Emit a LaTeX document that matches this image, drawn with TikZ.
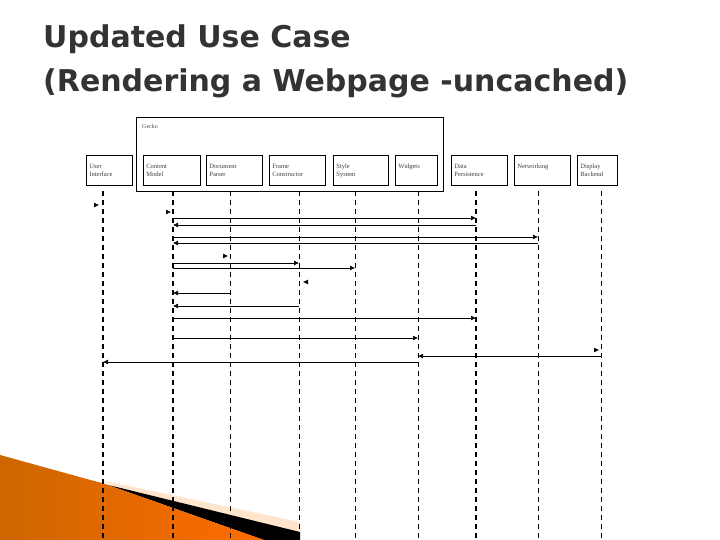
\documentclass[tikz,border=0pt]{standalone}
\usepackage{fontspec}
\setmainfont{DejaVu Sans}
\newfontfamily\boxfont{Liberation Serif}
\usetikzlibrary{arrows.meta}
\begin{document}
\begin{tikzpicture}[x=1pt,y=-1pt,
  obj/.style={draw,line width=0.8pt,anchor=north west,inner xsep=3pt,inner ysep=4pt,font=\boxfont\fontsize{6.5}{8}\selectfont,align=left,text=black!75,minimum height=30pt},
  lthick/.style={line width=1.6pt,dash pattern=on 5pt off 4pt},
  lthin/.style={line width=0.8pt,dash pattern=on 5pt off 4pt},
  msg/.style={line width=0.7pt,-{Latex[length=5pt,width=5pt]}},
  tip/.style={line width=0.7pt,-{Latex[length=5pt,width=5pt]}}]
\useasboundingbox (0,0) rectangle (720,540);
\fill[white] (0,0) rectangle (720,540);
% decoration
\fill[orange!20!white] (100,480) -- (300,522) -- (300,540) -- (250,540) -- cycle;
\fill[black] (35,467) -- (300,532) -- (300,540) -- (264,540) -- (105,484) -- cycle;
\shade[left color=orange!80!black,right color=orange!85!red] (0,455) -- (105,484) -- (264,540) -- (0,540) -- cycle;
% title
\node[anchor=north west,align=left,text=black!80,font=\bfseries\fontsize{30}{44}\selectfont,inner sep=0pt] (title) at (43,25) {Updated Use Case\\(Rendering a Webpage -uncached)};
% gecko
\node[draw,line width=1pt,anchor=north west,minimum width=307pt,minimum height=74pt,inner sep=0pt] (gecko) at (136,117) {};
\node[anchor=north west,font=\boxfont\fontsize{6}{7}\selectfont,text=black!70,inner sep=0pt] (gl) at (142,124) {Gecko};
% objects
\node[obj,text width=40pt] (ui) at (86,155) {User\\Interface\\[6pt]};
\node[obj,text width=51pt] (cm) at (143,155) {Content\\Model\\[6pt]};
\node[obj,text width=50pt] (dp) at (206,155) {Document\\Parser\\[6pt]};
\node[obj,text width=50pt] (fc) at (269,155) {Frame\\Constructor\\[6pt]};
\node[obj,text width=49pt] (ss) at (333,155) {\strut Style\\System\\[6pt]};
\node[obj,text width=36pt] (wd) at (395,155) {Widgets\\\phantom{X}\\[6pt]};
\node[obj,text width=50pt] (da) at (451,155) {Data\\Persistence\\[6pt]};
\node[obj,text width=50pt] (nw) at (514,155) {Networking\\\phantom{X}\\[6pt]};
\node[obj,text width=34pt] (db) at (577,155) {Display\\Backend\\[6pt]};
% lifelines
\foreach \x/\s in {103/lthick,173/lthick,230/lthin,299/lthin,355/lthin,418/lthin,476/lthick,538/lthin,601/lthin}{
  \draw[\s] (\x,191) -- (\x,540);
}
\coordinate (UI) at (103,0); \coordinate (CM) at (173,0); \coordinate (DP) at (230,0);
\coordinate (FC) at (299,0); \coordinate (SS) at (355,0); \coordinate (WD) at (418,0);
\coordinate (DA) at (476,0); \coordinate (NW) at (538,0); \coordinate (DB) at (601,0);
\foreach \a/\b/\y in {CM/DA/218,DA/CM/225,CM/NW/237,NW/CM/243,CM/FC/263,CM/SS/268,DP/CM/293,FC/CM/306,CM/DA/318,CM/WD/338,DB/WD/356,WD/UI/362}{
  \draw[msg] (\a |- 0,\y) -- (\b |- 0,\y);
}
% isolated arrowheads
\foreach \x/\y/\d in {96/205/1,168/212/1,225/256/1,306/282/-1,596/350/1}{
  \draw[tip] (\x-\d*1,\y) -- (\x+\d*3,\y);
}
\end{tikzpicture}
\end{document}
